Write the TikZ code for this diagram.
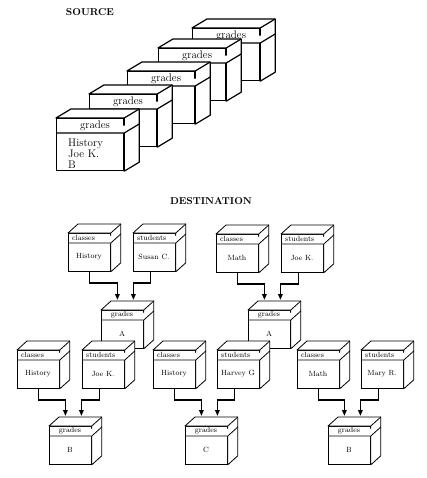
\documentclass[tikz,border=0pt]{standalone}
\usetikzlibrary{arrows.meta}

\newcommand{\srcfont}{\fontsize{11}{11}\selectfont}
\newcommand{\dstfont}{\fontsize{7.5}{8}\selectfont}
% one box: front face as a node, top and side faces drawn around it
\newcommand{\cube}[5]{%
  \node[#1] (#2) at #3 {};
  \filldraw[#1 edge] (#2.north west) -- ([shift={(\cdx,\cdy)}]#2.north west)
    -- ([shift={(\cdx,\cdy)}]#2.north east) -- ([shift={(\cdx,\cdy)}]#2.south east)
    -- (#2.south east) -- (#2.north east) -- cycle;
  \draw[#1 edge] (#2.north east) -- ++(\cdx,\cdy);
  \draw[#1 edge] ([yshift=-\cband]#2.north west) -- ([yshift=-\cband]#2.north east) -- ++(\cdx,\cdy);
  \node[#1 title] at (#2.north west) {#4};
  \node[#1 body] at (#2.north west) {#5};
}

\tikzset{
  srcbox/.style={draw, fill=white, line width=1.2pt, anchor=north west, inner sep=0pt,
                 minimum width=67pt, minimum height=52pt},
  srcbox edge/.style={draw, fill=white, line width=1.2pt, line join=round},
  srcbox title/.style={anchor=center, xshift=39pt, yshift=-7.5pt, font=\srcfont},
  srcbox body/.style={anchor=north west, xshift=12pt, yshift=-21pt, align=left,
                      inner sep=0pt, font=\srcfont},
  tblbox/.style={draw, fill=white, line width=0.8pt, anchor=north west, inner sep=0pt,
                 minimum width=42pt, minimum height=38pt},
  tblbox edge/.style={draw, fill=white, line width=0.8pt, line join=round},
  tblbox title/.style={anchor=west, xshift=4pt, yshift=-5pt, inner sep=0pt, font=\dstfont},
  tblbox body/.style={anchor=center, xshift=21pt, yshift=-24pt, font=\dstfont},
  grdbox/.style={tblbox},
  grdbox edge/.style={tblbox edge},
  grdbox title/.style={anchor=center, xshift=21pt, yshift=-5pt, inner sep=0pt, font=\dstfont},
  grdbox body/.style={tblbox body},
  heading/.style={font=\fontsize{10}{12}\selectfont\bfseries},
  link/.style={line width=1.5pt, -{Triangle[length=6pt,width=4.5pt]}}
}

\begin{document}
\begin{tikzpicture}[x=1pt, y=-1pt]
  \useasboundingbox (0,0) rectangle (426,478);

  % source
  \node[heading] (src) at (90,12) {SOURCE};
  \def\cdx{15pt}\def\cdy{9pt}\def\cband{15pt}
  \cube{srcbox}{s5}{(192,28)}{grades}{}
  \cube{srcbox}{s4}{(158,48)}{grades}{}
  \cube{srcbox}{s3}{(127,71)}{grades}{}
  \cube{srcbox}{s2}{(89,94)}{grades}{}
  \cube{srcbox}{s1}{(56,118)}{grades}{History\\Joe K.\\B}

  % destination
  \node[heading] (dst) at (211,201) {DESTINATION};
  \def\cdx{10pt}\def\cdy{9pt}\def\cband{10pt}
  \cube{tblbox}{c1}{(68,233)}{classes}{History}
  \cube{tblbox}{t1}{(133,233)}{students}{Susan C.}
  \cube{tblbox}{c2}{(216,234)}{classes}{Math}
  \cube{tblbox}{t2}{(281,234)}{students}{Joe K.}
  \cube{grdbox}{g1}{(101,310)}{grades}{A}
  \cube{grdbox}{g2}{(248,310)}{grades}{A}

  \draw[link] (c1.south) -- ++(0pt,-11pt) -| ([shift={(-5pt,10pt)}]g1.north);
  \draw[link] ([xshift=-4pt]t1.south) -- ++(0pt,-11pt) -| ([shift={(11pt,10pt)}]g1.north);
  \draw[link] (c2.south) -- ++(0pt,-11pt) -| ([shift={(-5pt,10pt)}]g2.north);
  \draw[link] ([xshift=-4pt]t2.south) -- ++(0pt,-11pt) -| ([shift={(11pt,10pt)}]g2.north);

  \cube{tblbox}{c3}{(17,350)}{classes}{History}
  \cube{tblbox}{t3}{(82,350)}{students}{Joe K.}
  \cube{tblbox}{c4}{(153,350)}{classes}{History}
  \cube{tblbox}{t4}{(217,350)}{students}{Harvey G}
  \cube{tblbox}{c5}{(297,350)}{classes}{Math}
  \cube{tblbox}{t5}{(361,350)}{students}{Mary R.}
  \cube{grdbox}{g3}{(49,426)}{grades}{B}
  \cube{grdbox}{g4}{(185,426)}{grades}{C}
  \cube{grdbox}{g5}{(328,426)}{grades}{B}

  \draw[link] (c3.south) -- ++(0pt,-11pt) -| ([shift={(-5pt,10pt)}]g3.north);
  \draw[link] ([xshift=-4pt]t3.south) -- ++(0pt,-11pt) -| ([shift={(11pt,10pt)}]g3.north);
  \draw[link] (c4.south) -- ++(0pt,-11pt) -| ([shift={(-5pt,10pt)}]g4.north);
  \draw[link] ([xshift=-4pt]t4.south) -- ++(0pt,-11pt) -| ([shift={(11pt,10pt)}]g4.north);
  \draw[link] (c5.south) -- ++(0pt,-11pt) -| ([shift={(-5pt,10pt)}]g5.north);
  \draw[link] ([xshift=-4pt]t5.south) -- ++(0pt,-11pt) -| ([shift={(11pt,10pt)}]g5.north);
\end{tikzpicture}
\end{document}
